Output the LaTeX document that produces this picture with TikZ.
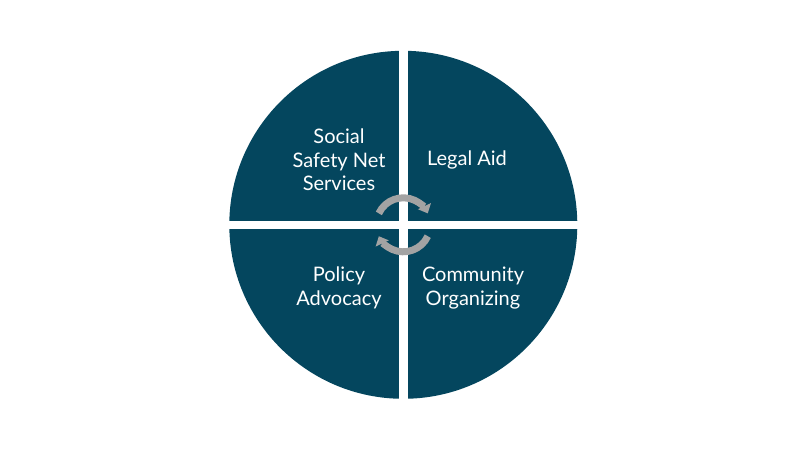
\documentclass[tikz,border=0pt]{standalone}
\usepackage{fontspec}
\setmainfont{Lato}
\usetikzlibrary{arrows.meta}
\definecolor{deepteal}{RGB}{4,70,94}
\definecolor{arrowgray}{RGB}{163,163,163}
\tikzset{>=Triangle}
\tikzset{%
    quadrant/.style={fill=deepteal},
    quadtext/.style={text=white, align=center, font=\fontsize{20}{23.3}\selectfont},
    cyclearrow/.style={draw=arrowgray, line width=7pt, -{Triangle[width=14pt,length=8pt]}}
}

\begin{document}
\begin{tikzpicture}[x=1pt,y=1pt]
\useasboundingbox (0,0) rectangle (800,450);
\coordinate (hub) at (403.3,225.2);
\def\wheel{(hub) circle (174pt)}
    \begin{scope}
        \clip \wheel;
        \fill[quadrant] (407.6,229.4) rectangle (600,420);
        \fill[quadrant] (399.0,229.4) rectangle (200,420);
        \fill[quadrant] (399.0,221.0) rectangle (200,30);
        \fill[quadrant] (407.6,221.0) rectangle (600,30);
    \end{scope}
\node[quadtext] (social)    at (339,290) {Social\\Safety Net\\Services};
\node[quadtext] (legal)     at (467,290) {Legal Aid};
\node[quadtext] (policy)    at (339,162) {Policy\\Advocacy};
\node[quadtext] (community) at (473,162) {Community\\Organizing};
\draw[cyclearrow] ([shift={(155:27pt)}]hub) arc (155:25:27pt);
\draw[cyclearrow] ([shift={(-25:27pt)}]hub) arc (-25:-155:27pt);
\end{tikzpicture}
\end{document}
